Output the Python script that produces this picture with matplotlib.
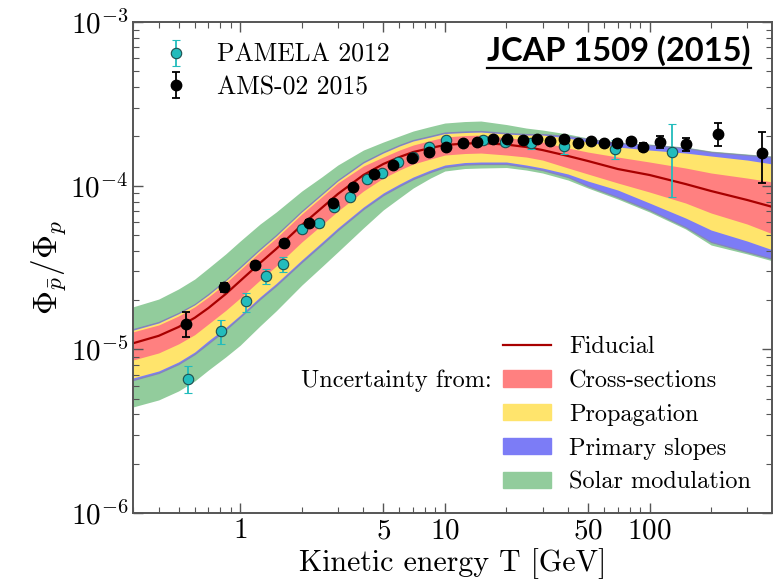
import numpy as np
import matplotlib
matplotlib.use("Agg")
import matplotlib.pyplot as plt
from matplotlib.patches import Patch
from matplotlib.lines import Line2D
from matplotlib.ticker import FixedLocator, LogLocator, FuncFormatter, NullFormatter

plt.rcParams["font.family"] = ["cmr10", "DejaVu Serif"]
plt.rcParams["mathtext.fontset"] = "cm"
plt.rcParams["axes.formatter.use_mathtext"] = True

# kinetic energy grid of the model bands [GeV]
T = [0.3, 0.4, 0.5, 0.6, 0.7, 0.85, 1, 1.25, 1.5, 2, 2.5, 3, 4, 5, 6, 7, 8.5, 10, 12.5, 15,
     20, 25, 30, 40, 50, 70, 100, 150, 200, 300, 400]

# model curves, units of 1e-5
fiducial = [1.09, 1.21, 1.37, 1.56, 1.79, 2.18, 2.62, 3.37, 4.11, 5.75, 7.31, 8.90, 11.63, 13.57,
            14.97, 16.06, 17.00, 17.73, 18.10, 18.23, 17.85, 17.24, 16.52, 15.19, 14.16, 12.65,
            11.63, 10.24, 9.28, 8.18, 7.41]
solar_hi = [1.82, 2.03, 2.34, 2.69, 3.14, 3.83, 4.59, 5.83, 6.91, 9.28, 11.30, 13.38, 16.52, 18.49,
            20.12, 21.59, 22.99, 24.16, 24.67, 24.85, 23.65, 22.51, 21.89, 20.69, 19.56, 18.49,
            17.98, 17.24, 16.29, 15.62, 15.19]
solar_lo = [0.445, 0.491, 0.557, 0.641, 0.748, 0.899, 1.06, 1.39, 1.72, 2.47, 3.19, 3.94, 5.52, 7.11,
            8.41, 9.68, 11.14, 12.30, 12.74, 12.83, 12.92, 12.47, 11.96, 10.83, 9.68, 8.29,
            6.91, 5.44, 4.34, 3.83, 3.47]
slopes_hi = [1.33, 1.47, 1.67, 1.89, 2.18, 2.65, 3.19, 4.11, 5.00, 7.00, 8.90, 10.83, 13.96, 16.06,
             17.73, 19.02, 20.12, 21.14, 21.43, 21.59, 20.99, 20.69, 20.69, 20.12, 19.29, 18.23,
             17.73, 17.00, 16.06, 15.40, 14.97]
slopes_lo = [0.650, 0.718, 0.814, 0.937, 1.09, 1.32, 1.58, 2.03, 2.46, 3.42, 4.37, 5.36, 7.21, 8.77,
             9.96, 10.99, 12.13, 13.01, 13.48, 13.57, 13.57, 13.01, 12.47, 11.30, 9.96, 8.53,
             7.11, 5.59, 4.53, 3.94, 3.57]
prop_hi = [1.31, 1.45, 1.65, 1.87, 2.15, 2.62, 3.14, 4.05, 4.93, 6.91, 8.77, 10.68, 13.76, 15.84,
           17.48, 18.76, 19.84, 20.84, 21.14, 21.28, 20.69, 20.40, 20.40, 19.56, 18.49, 17.24,
           16.52, 15.84, 15.19, 14.35, 13.57]
prop_lo = [0.669, 0.738, 0.838, 0.964, 1.13, 1.36, 1.62, 2.09, 2.53, 3.52, 4.50, 5.52, 7.41, 9.03,
           10.24, 11.30, 12.47, 13.38, 13.86, 13.96, 13.96, 13.38, 12.83, 11.79, 10.68, 9.41,
           7.84, 6.35, 5.36, 4.59, 4.05]
xs_hi = [1.28, 1.41, 1.60, 1.82, 2.09, 2.54, 3.06, 3.94, 4.79, 6.72, 8.53, 10.39, 13.19, 14.97,
         16.52, 17.73, 18.89, 19.84, 20.26, 20.40, 19.70, 19.02, 18.49, 17.00, 16.06, 14.97,
         13.96, 12.83, 11.96, 11.14, 10.53]
xs_lo = [0.861, 0.951, 1.08, 1.23, 1.43, 1.73, 2.06, 2.65, 3.23, 4.53, 5.75, 7.00, 9.28, 11.14,
         12.47, 13.57, 14.56, 15.40, 15.73, 15.84, 15.40, 14.97, 14.35, 12.83, 11.79, 10.39,
         9.15, 7.84, 6.81, 5.83, 5.07]

# PAMELA 2012, units of 1e-5
pam_T = [0.557, 0.81, 1.07, 1.34, 1.62, 2.0, 2.43, 2.87, 3.44, 4.17, 4.93, 5.9, 7.0, 8.36,
         10.1, 15.3, 19.6, 26.3, 38, 67.5, 129]
pam_v = [0.66, 1.29, 1.98, 2.81, 3.32, 5.44, 5.9, 7.41, 8.53, 11.0, 12.0, 14.0, 15.0, 17.2,
         19.0, 19.0, 18.5, 18.2, 17.5, 16.7, 16.1]
pam_lo = [0.12, 0.21, 0.29, 0.30, 0.35, 0.30, 0.30, 0.35, 0.40, 0.45, 0.50, 0.60, 0.60, 0.70,
          0.80, 1.0, 1.1, 1.4, 1.8, 2.2, 7.6]
pam_hi = [0.13, 0.22, 0.23, 0.30, 0.35, 0.30, 0.30, 0.35, 0.40, 0.45, 0.50, 0.60, 0.60, 0.70,
          0.80, 1.0, 1.1, 1.4, 1.8, 2.2, 7.7]

# AMS-02 2015, units of 1e-5
ams_T = [0.545, 0.835, 1.18, 1.64, 2.17, 2.84, 3.56, 4.51, 5.57, 6.9, 8.36, 10.1, 12.2, 14.3,
         17.1, 20.1, 24.0, 28.1, 32.5, 38.0, 44.5, 51.5, 59.7, 69.0, 80.8, 92.5, 112, 150, 217, 356]
ams_v = [1.43, 2.40, 3.28, 4.47, 5.91, 7.83, 9.8, 11.8, 13.4, 14.8, 16.1, 17.2, 18.2, 18.5,
         19.3, 19.3, 19.0, 19.3, 18.7, 19.3, 18.2, 18.7, 18.2, 18.2, 18.7, 17.2, 18.5, 18.0, 20.7, 15.8]
ams_lo = [0.24, 0.15, 0.15, 0.2, 0.25, 0.3, 0.35, 0.4, 0.45, 0.5, 0.5, 0.5, 0.5, 0.5,
          0.5, 0.5, 0.5, 0.5, 0.5, 0.5, 0.6, 0.6, 0.6, 0.7, 0.8, 1.0, 1.5, 1.7, 3.2, 5.4]
ams_hi = [0.26, 0.15, 0.15, 0.2, 0.25, 0.3, 0.35, 0.4, 0.45, 0.5, 0.5, 0.5, 0.5, 0.5,
          0.5, 0.5, 0.5, 0.5, 0.5, 0.5, 0.6, 0.6, 0.6, 0.7, 0.8, 1.0, 1.5, 1.7, 3.5, 5.5]

band_labels = ["Cross-sections", "Propagation", "Primary slopes", "Solar modulation"]
c_red, c_yel, c_blue, c_green = "#ff8080", "#ffe46c", "#7c7cf6", "#92cc9c"

s = 1e-5
fig = plt.figure(figsize=(7.74, 5.81), dpi=100)
ax = fig.add_axes([0.172, 0.117, 0.825, 0.845])

ax.fill_between(T, np.array(solar_lo) * s, np.array(solar_hi) * s, color=c_green, lw=0)
ax.fill_between(T, np.array(slopes_lo) * s, np.array(slopes_hi) * s, facecolor=c_blue,
                edgecolor="#8486b8", lw=0.9)
ax.fill_between(T, np.array(prop_lo) * s, np.array(prop_hi) * s, color=c_yel, lw=0)
ax.fill_between(T, np.array(xs_lo) * s, np.array(xs_hi) * s, color=c_red, lw=0)
ax.plot(T, np.array(fiducial) * s, color="#a80000", lw=1.6)

pam = ax.errorbar(pam_T, np.array(pam_v) * s, yerr=[np.array(pam_lo) * s, np.array(pam_hi) * s],
                  fmt="o", ms=7.5, mfc="#22bcbc", mec="#1d4f4f", mew=0.8, ecolor="#22bcbc",
                  elinewidth=1.3, capsize=3, capthick=1.3, label="PAMELA 2012", zorder=4)
ams = ax.errorbar(ams_T, np.array(ams_v) * s, yerr=[np.array(ams_lo) * s, np.array(ams_hi) * s],
                  fmt="o", ms=7.5, mfc="black", mec="black", ecolor="black",
                  elinewidth=1.3, capsize=3, capthick=1.3, label="AMS-02 2015", zorder=5)

ax.set_xscale("log")
ax.set_yscale("log")
ax.set_xlim(0.3, 395)
ax.set_ylim(1e-6, 1e-3)

ax.xaxis.set_major_locator(FixedLocator([1, 5, 10, 50, 100]))
ax.xaxis.set_major_formatter(FuncFormatter(lambda v, p: r"$%d$" % v))
ax.xaxis.set_minor_locator(LogLocator(base=10, subs=np.arange(2, 10), numticks=20))
ax.xaxis.set_minor_formatter(NullFormatter())
ax.yaxis.set_major_formatter(FuncFormatter(lambda v, p: r"$10^{%d}$" % round(np.log10(v))))
ax.yaxis.set_minor_locator(LogLocator(base=10, subs=np.arange(2, 10), numticks=20))
ax.yaxis.set_minor_formatter(NullFormatter())
ax.tick_params(which="both", direction="in", top=True, right=True, colors="#555555",
               labelcolor="black", labelsize=21)
ax.tick_params(which="major", length=7, width=1)
ax.tick_params(which="minor", length=4, width=0.8)
for sp in ax.spines.values():
    sp.set_color("#555555")
    sp.set_linewidth(1.4)

ax.set_xlabel("Kinetic energy T [GeV]", fontsize=21.5, labelpad=3)
ax.set_ylabel(r"$\Phi_{\bar{p}}/\Phi_p$", fontsize=24, labelpad=2)

leg1 = ax.legend(handles=[pam, ams], loc="upper left", bbox_to_anchor=(0.047, 0.957),
                 borderaxespad=0, borderpad=0, frameon=False, fontsize=18.5, handlelength=1.0,
                 handletextpad=1.1, labelspacing=0.33)
ax.add_artist(leg1)

handles = [Line2D([], [], color="#a80000", lw=1.6),
           Patch(color=c_red), Patch(color=c_yel), Patch(color=c_blue), Patch(color=c_green)]
leg2 = ax.legend(handles=handles, labels=["Fiducial"] + band_labels, loc="lower left",
                 bbox_to_anchor=(0.58, 0.04), borderaxespad=0, borderpad=0, frameon=False,
                 fontsize=17.5, handlelength=1.95, handleheight=0.65, handletextpad=0.75,
                 labelspacing=0.48)
ax.text(0.562, 0.269, "Uncertainty from:", transform=ax.transAxes, fontsize=17.5,
        ha="right", va="center")

jcap = fig.text(0.97, 0.913, "JCAP 1509 (2015)", fontsize=23.5, fontweight="bold",
                family="Lato", ha="right", va="center")
fig.canvas.draw()
bb = jcap.get_window_extent().transformed(fig.transFigure.inverted())
fig.add_artist(Line2D([bb.x0, bb.x1], [bb.y0 - 0.004, bb.y0 - 0.004], color="black", lw=1.6))

fig.savefig("out.png", dpi=100)
